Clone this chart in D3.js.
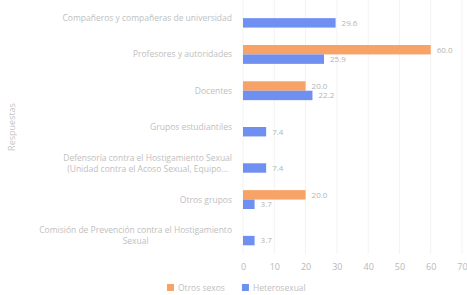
<!DOCTYPE html>
<html>
<head>
<meta charset="utf-8">
<script src="https://cdn.jsdelivr.net/npm/d3@7"></script>
<style>
  body { margin: 0; background: #fff; }
  text { font-family: "Open Sans", sans-serif; }
</style>
</head>
<body>
<svg id="chart" width="467" height="295"></svg>
<script>
// categories (multi-line labels split with |)
const categories = [
  'Compañeros y compañeras de universidad',
  'Profesores y autoridades',
  'Docentes',
  'Grupos estudiantiles',
  'Defensoría contra el Hostigamiento Sexual|(Unidad contra el Acoso Sexual, Equipo…',
  'Otros grupos',
  'Comisión de Prevención contra el Hostigamiento|Sexual'
];
const seriesNames = ['Otros sexos', 'Heterosexual'];
const otrosValues = [0, 60.0, 20.0, 0, 0, 20.0, 0];
const heteroValues = [29.6, 25.9, 22.2, 7.4, 7.4, 3.7, 3.7];
const xTicks = [0, 10, 20, 30, 40, 50, 60, 70];
const colors = ['#f7a266', '#6f8ff1'];

const svg = d3.select('#chart');
const margin = {top: 0, left: 243, right: 5, bottom: 41};
const width = 467, height = 295;
const innerW = width - margin.left - margin.right;
const innerH = height - margin.top - margin.bottom;

const data = categories.map((c, i) => ({cat: c, values: [otrosValues[i], heteroValues[i]]}));

const x = d3.scaleLinear().domain([0, 70]).range([0, 219]);
const y = d3.scaleBand().domain(categories).range([0, innerH]).paddingInner(0.48).paddingOuter(0.24);
const ySub = d3.scaleBand().domain([0, 1]).range([0, y.bandwidth()]);

const g = svg.append('g').attr('transform', `translate(${margin.left},${margin.top})`);

// faint grid
g.selectAll('.grid').data(xTicks).enter().append('line')
  .attr('class', 'grid')
  .attr('x1', d => x(d)).attr('x2', d => x(d))
  .attr('y1', 0).attr('y2', innerH)
  .attr('stroke', '#f3f3f3');

// x axis
const xAxis = d3.axisBottom(x).tickValues(xTicks).tickSize(0).tickPadding(10);
const xAxisG = g.append('g').attr('transform', `translate(0,${innerH})`).call(xAxis);
xAxisG.select('.domain').remove();
xAxisG.selectAll('text').attr('fill', '#b8b8b8').attr('font-size', 9);

// bars
const groups = g.selectAll('.cat').data(data).enter().append('g')
  .attr('class', 'cat')
  .attr('transform', d => `translate(0,${y(d.cat)})`);

groups.selectAll('rect').data(d => d.values.map((v, k) => ({v, k})).filter(e => e.v > 0))
  .enter().append('rect')
  .attr('x', 0)
  .attr('y', d => ySub(d.k))
  .attr('width', d => x(d.v))
  .attr('height', ySub.bandwidth())
  .attr('fill', d => colors[d.k]);

groups.selectAll('.val').data(d => d.values.map((v, k) => ({v, k})).filter(e => e.v > 0))
  .enter().append('text')
  .attr('class', 'val')
  .attr('x', d => x(d.v) + 6)
  .attr('y', d => ySub(d.k) + ySub.bandwidth() / 2)
  .attr('dy', '0.35em')
  .attr('font-size', 8)
  .attr('fill', '#b4b4b4')
  .text(d => d.v.toFixed(1));

// category labels
const labelX = -11;
data.forEach(d => {
  const lines = d.cat.split('|');
  const cy = y(d.cat) + y.bandwidth() / 2;
  const t = g.append('text')
    .attr('font-size', 8.5)
    .attr('fill', '#c0c0c0');
  if (lines.length === 1) {
    t.attr('x', labelX).attr('y', cy).attr('dy', '0.35em')
      .attr('text-anchor', 'end').text(lines[0]);
  } else {
    t.attr('text-anchor', 'middle');
    const spans = lines.map((l, i) => t.append('tspan').text(l));
    const w = spans[0].node().getComputedTextLength();
    const startY = cy - (lines.length - 1) * 11 / 2;
    spans.forEach((s, i) => s.attr('x', labelX - w / 2).attr('y', startY + i * 11).attr('dy', '0.35em'));
  }
});

// y axis title
svg.append('text')
  .attr('transform', `translate(15,${innerH / 2}) rotate(-90)`)
  .attr('text-anchor', 'middle')
  .attr('font-size', 9)
  .attr('fill', '#c6c6c6')
  .text('Respuestas');

// legend
const legend = svg.append('g').attr('transform', 'translate(167,288)');
let lx = 0;
seriesNames.forEach((name, i) => {
  const item = legend.append('g').attr('transform', `translate(${lx},0)`);
  item.append('rect').attr('x', 0).attr('y', -4).attr('width', 7).attr('height', 7).attr('fill', colors[i]);
  const txt = item.append('text').attr('x', 11).attr('y', 0).attr('dy', '0.32em')
    .attr('font-size', 8.5).attr('fill', '#c0c0c0').text(name);
  lx += 11 + txt.node().getComputedTextLength() + 17;
});
</script>
</body>
</html>
